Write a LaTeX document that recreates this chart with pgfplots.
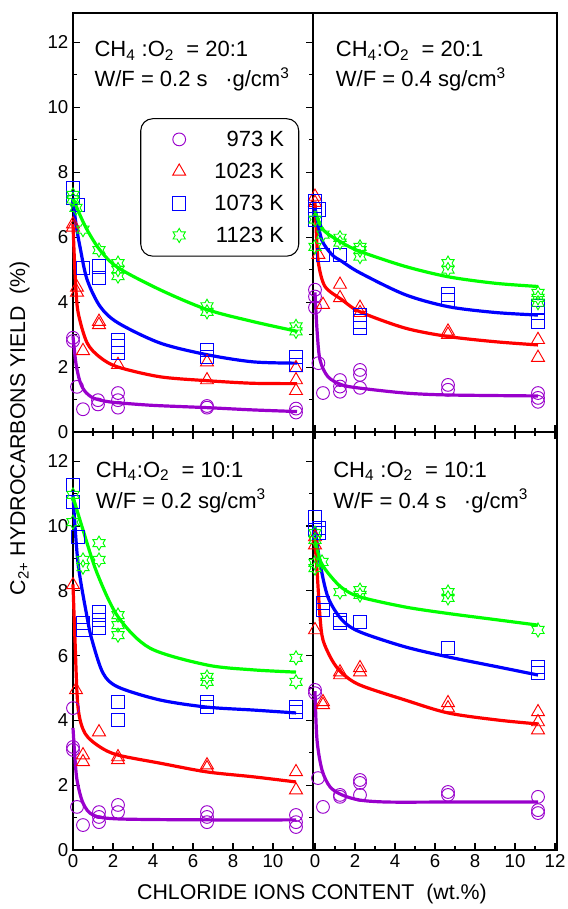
\documentclass[border=0pt]{standalone}
\usepackage{fontspec}
\setmainfont{Liberation Sans}
\usepackage{pgfplots}
\pgfplotsset{compat=1.18}
\usetikzlibrary{plotmarks}

% six-pointed star outline
\pgfdeclareplotmark{hexstar}{%
  \pgfpathmoveto{\pgfpointpolar{90}{\pgfplotmarksize}}%
  \pgfpathlineto{\pgfpointpolar{120}{0.577\pgfplotmarksize}}%
  \pgfpathlineto{\pgfpointpolar{150}{\pgfplotmarksize}}%
  \pgfpathlineto{\pgfpointpolar{180}{0.577\pgfplotmarksize}}%
  \pgfpathlineto{\pgfpointpolar{210}{\pgfplotmarksize}}%
  \pgfpathlineto{\pgfpointpolar{240}{0.577\pgfplotmarksize}}%
  \pgfpathlineto{\pgfpointpolar{270}{\pgfplotmarksize}}%
  \pgfpathlineto{\pgfpointpolar{300}{0.577\pgfplotmarksize}}%
  \pgfpathlineto{\pgfpointpolar{330}{\pgfplotmarksize}}%
  \pgfpathlineto{\pgfpointpolar{0}{0.577\pgfplotmarksize}}%
  \pgfpathlineto{\pgfpointpolar{30}{\pgfplotmarksize}}%
  \pgfpathlineto{\pgfpointpolar{60}{0.577\pgfplotmarksize}}%
  \pgfpathclose
  \pgfusepathqstroke
}

\definecolor{cviolet}{RGB}{153,0,204}
\definecolor{cred}{RGB}{255,0,0}
\definecolor{cblue}{RGB}{0,0,255}
\definecolor{cgreen}{RGB}{0,255,0}

\tikzset{note/.style={anchor=base west, inner sep=0pt, font=\fontsize{16.5}{16.5}\selectfont}}

\pgfplotsset{
  panel/.style={
    scale only axis, height=314.25pt, ymin=0, ymax=12.9, clip=false,
    tick align=inside, axis line style={line width=1.1pt},
    major tick length=5pt, minor tick length=3pt,
    every tick/.style={black, line width=0.8pt},
    minor x tick num=1, minor y tick num=1,
    xtick={0,2,...,12}, ytick={0,2,...,12},
    ticklabel style={font=\fontsize{14}{14}\selectfont},
    /pgf/number format/assume math mode=true,
  },
  nolabels/.style={xticklabels={{},{},{},{},{},{},{}}},
  mk/.style={only marks, mark options={line width=0.7pt},
    legend image code/.code={\path (0pt,0pt) (43.5pt,0pt); \draw[only marks] plot coordinates {(19.5pt,0pt)};}},
  p973/.style={mk, mark=o, mark size=4.8pt, color=cviolet},
  p1023/.style={mk, mark=triangle, mark size=5.6pt, color=cred},
  p1073/.style={mk, mark=square, mark size=5pt, color=cblue},
  p1123/.style={mk, mark=hexstar, mark size=5.3pt, color=cgreen},
  fit/.style={smooth, no marks, line width=2.4pt, forget plot},
}

\begin{document}
\begin{tikzpicture}

% ---------- top left: CH4:O2 = 20:1, W/F = 0.2
\begin{axis}[panel, nolabels, name=tl, at={(0,0)}, anchor=north west, width=180pt,
  xmin=0, xmax=12, xtick pos=left,
  ytick pos=both, yticklabel pos=left,
  legend style={at={(0.28,0.749)}, anchor=north west, draw=black, line width=0.8pt,
    rounded corners=9pt, font=\fontsize{16.5}{16.5}\selectfont,
    row sep=7pt, inner xsep=9pt, inner ysep=7pt},
  legend cell align=right,
  legend image post style={sharp corners, line width=0.7pt}]
\addplot[p973] coordinates {(0,2.9)(0,2.8)(0.2,1.39)(0.5,0.7)(1.25,0.98)(1.25,0.85)(2.25,1.2)(2.25,0.98)(2.25,0.75)(6.7,0.8)(6.7,0.75)(11.15,0.72)(11.15,0.6)};
\addplot[p1023] coordinates {(0,6.4)(0,6.3)(0.2,4.45)(0.2,4.3)(0.5,2.5)(1.3,3.4)(1.3,3.3)(2.25,2.07)(6.7,2.15)(6.7,1.6)(11.15,1.97)(11.15,1.6)(11.15,1.27)};
\addplot[p1073] coordinates {(0,7.5)(0,7.2)(0.25,7.0)(0.5,5.05)(1.3,5.1)(1.3,4.75)(2.25,2.84)(2.25,2.63)(2.25,2.44)(6.7,2.53)(6.7,2.32)(11.15,2.3)(11.15,2.07)};
\addplot[p1123] coordinates {(0,7.3)(0,7.16)(0.15,6.9)(0.5,6.23)(1.3,5.6)(2.25,5.2)(2.25,5.0)(2.25,4.8)(6.7,3.87)(6.7,3.7)(11.15,3.25)(11.15,3.1)};
\legend{973 K, 1023 K, 1073 K, 1123 K}
\addplot[fit, cviolet] coordinates {(0,2.95)(0.15,2.1)(0.35,1.55)(0.6,1.25)(1,1.05)(1.6,0.95)(2.25,0.9)(4,0.82)(6.7,0.75)(9,0.68)(11.2,0.63)};
\addplot[fit, cred] coordinates {(0,6.4)(0.05,5.6)(0.12,4.7)(0.25,3.7)(0.7,2.75)(1.35,2.3)(2.25,2.0)(4.35,1.7)(6.7,1.58)(9,1.5)(11.2,1.49)};
\addplot[fit, cblue] coordinates {(0,7.16)(0.15,6.4)(0.35,5.7)(0.7,4.7)(1.35,3.87)(2.25,3.36)(4.35,2.74)(6.7,2.38)(9,2.16)(11.2,2.12)};
\addplot[fit, cgreen] coordinates {(0,7.2)(0.3,6.75)(0.7,6.23)(1.35,5.6)(2.25,5.06)(4.35,4.38)(6.7,3.77)(9,3.4)(11.2,3.1)};
\node[note, xshift=16pt, yshift=-33pt] at (rel axis cs:0,1) {CH\textsubscript{4} :O\textsubscript{2}\ \ = 20:1};
\node[note, xshift=16pt, yshift=-55.5pt] at (rel axis cs:0,1) {W/F = 0.2 s\hspace{0.8em}·g/cm\textsuperscript{3}};
\end{axis}

% ---------- top right: CH4:O2 = 20:1, W/F = 0.4
\begin{axis}[panel, nolabels, name=tr, at={(tl.north east)}, anchor=north west, width=183pt,
  xmin=-0.1, xmax=12.1, xtick pos=left, ytick=\empty]
\addplot[p973] coordinates {(0,4.38)(0,4.17)(0,3.83)(0.17,2.12)(0.4,1.2)(1.25,1.6)(1.25,1.4)(1.25,1.24)(2.25,1.91)(2.25,1.76)(2.25,1.36)(6.65,1.45)(6.65,1.3)(11.15,1.2)(11.15,1.05)(11.15,0.93)};
\addplot[p1023] coordinates {(0,7.25)(0,7.06)(0.17,5.46)(0.4,3.92)(1.25,4.54)(1.25,4.13)(2.25,3.83)(2.25,3.67)(6.65,3.1)(6.65,3.0)(11.15,2.84)(11.15,2.29)};
\addplot[p1073] coordinates {(0,7.1)(0,6.85)(0,6.54)(0.2,6.85)(0.4,5.46)(1.25,5.46)(2.25,3.6)(2.25,3.4)(2.25,3.2)(6.65,4.23)(6.65,4.07)(11.15,3.86)(11.15,3.67)(11.15,3.4)};
\addplot[p1123] coordinates {(0,6.54)(0,5.7)(0.4,6.08)(1.25,5.98)(1.25,5.83)(2.25,5.7)(2.25,5.6)(2.25,5.4)(6.65,5.2)(6.65,5.0)(11.15,4.28)(11.15,4.13)(11.15,3.98)};
\addplot[fit, cviolet] coordinates {(0,4.3)(0.1,3.15)(0.25,2.22)(0.65,1.7)(1.35,1.45)(2.25,1.35)(4.5,1.2)(6.65,1.14)(11.15,1.11)};
\addplot[fit, cred] coordinates {(0,7.1)(0.07,6.1)(0.17,5.2)(0.5,4.48)(1.35,4.07)(2.25,3.7)(4.5,3.2)(6.65,2.94)(9,2.78)(11.15,2.68)};
\addplot[fit, cblue] coordinates {(0,6.9)(0.33,5.93)(0.85,5.46)(1.35,5.25)(2.25,4.9)(4.5,4.23)(6.65,3.86)(9,3.68)(11.15,3.6)};
\addplot[fit, cgreen] coordinates {(0,6.8)(0.4,6.23)(1.35,5.83)(2.25,5.56)(4.5,5.1)(6.65,4.78)(9,4.58)(11.15,4.48)};
\node[note, xshift=17pt, yshift=-33pt] at (rel axis cs:0,1) {CH\textsubscript{4}:O\textsubscript{2}\ \ = 20:1};
\node[note, xshift=17pt, yshift=-55.5pt] at (rel axis cs:0,1) {W/F = 0.4 sg/cm\textsuperscript{3}};
\end{axis}

% ---------- bottom left: CH4:O2 = 10:1, W/F = 0.2
\begin{axis}[panel, name=bl, at={(tl.south west)}, anchor=north west, width=180pt, height=313.5pt,
  xmin=0, xmax=12, xtick pos=both, xticklabel pos=left,
  xticklabels={0,2,4,6,8,10,{}},
  ytick pos=both, yticklabel pos=left]
\addplot[p973] coordinates {(0,4.38)(0,3.18)(0,3.09)(0.2,1.33)(0.5,0.77)(1.3,1.17)(1.3,1.02)(1.3,0.86)(2.25,1.39)(2.25,1.17)(6.7,1.17)(6.7,1.02)(6.7,0.86)(11.15,1.08)(11.15,0.86)(11.15,0.71)};
\addplot[p1023] coordinates {(0,8.18)(0.15,4.94)(0.5,2.93)(0.5,2.72)(1.3,3.64)(2.25,2.87)(2.25,2.78)(6.7,2.62)(6.7,2.53)(11.15,2.41)(11.15,1.85)};
\addplot[p1073] coordinates {(0,11.27)(0,10.74)(0.25,9.66)(0.5,7.0)(0.5,6.8)(1.3,7.35)(1.3,7.1)(1.3,6.85)(2.25,4.57)(2.25,4.01)(6.7,4.57)(6.7,4.41)(11.15,4.41)(11.15,4.26)};
\addplot[p1123] coordinates {(0,10.96)(0,10.12)(0.5,8.95)(0.5,8.73)(1.3,9.47)(1.3,8.95)(2.25,7.25)(2.25,6.94)(2.25,6.63)(6.7,5.34)(6.7,5.19)(11.15,5.93)(11.15,5.19)};
\addplot[fit, cviolet] coordinates {(0,3.77)(0.08,3.0)(0.2,2.16)(0.5,1.45)(1.0,1.08)(2.25,0.96)(6.7,0.93)(11.15,0.93)};
\addplot[fit, cred] coordinates {(0,8.2)(0.1,6.48)(0.25,4.41)(0.6,3.6)(1.35,3.18)(2.25,2.93)(4.35,2.68)(6.7,2.41)(9,2.26)(11.15,2.1)};
\addplot[fit, cblue] coordinates {(0,10.96)(0.25,8.86)(0.7,7.2)(0.95,6.48)(1.5,5.46)(2.25,5.03)(4.35,4.63)(6.7,4.41)(9,4.32)(11.15,4.23)};
\addplot[fit, cgreen] coordinates {(0,10.9)(0.5,9.88)(1.2,8.55)(2.25,7.2)(3.85,6.23)(6.7,5.71)(9,5.56)(11.15,5.49)};
\node[note, xshift=17pt, yshift=-34pt] at (rel axis cs:0,1) {CH\textsubscript{4}:O\textsubscript{2}\ \ = 10:1};
\node[note, xshift=17pt, yshift=-57pt] at (rel axis cs:0,1) {W/F = 0.2 sg/cm\textsuperscript{3}};
\end{axis}

% ---------- bottom right: CH4:O2 = 10:1, W/F = 0.4
\begin{axis}[panel, name=br, at={(tr.south west)}, anchor=north west, width=183pt, height=313.5pt,
  xmin=-0.1, xmax=12.1, xtick pos=both, xticklabel pos=left, ytick=\empty]
\addplot[p973] coordinates {(0,4.94)(0,4.84)(0.15,2.22)(0.4,1.33)(1.25,1.7)(1.25,1.64)(2.25,2.16)(2.25,2.07)(2.25,1.7)(6.65,1.79)(6.65,1.7)(11.15,1.64)(11.15,1.23)(11.15,1.14)};
\addplot[p1023] coordinates {(0,9.66)(0,9.41)(0,6.79)(0.4,4.57)(0.4,4.48)(1.25,5.49)(1.25,5.4)(2.25,5.62)(2.25,5.49)(6.65,4.54)(6.65,4.38)(11.15,4.26)(11.15,3.95)(11.15,3.7)};
\addplot[p1073] coordinates {(0,10.28)(0,9.88)(0.2,9.94)(0.2,9.78)(0.4,7.62)(0.4,7.41)(1.25,7.1)(1.25,7.0)(2.25,7.04)(6.65,6.23)(11.15,5.65)(11.15,5.46)};
\addplot[p1123] coordinates {(0,9.78)(0,9.57)(0,8.86)(0,8.7)(0.35,8.89)(1.25,7.96)(2.25,8.02)(2.25,7.87)(6.65,7.96)(6.65,7.78)(11.15,6.79)};
\addplot[fit, cviolet] coordinates {(0,4.9)(0.1,3.4)(0.35,2.47)(0.75,1.95)(1.35,1.7)(2.25,1.54)(3.65,1.48)(6.65,1.48)(11.15,1.48)};
\addplot[fit, cred] coordinates {(0,9.5)(0.1,8.64)(0.25,7.2)(0.4,6.48)(0.85,5.86)(1.35,5.46)(2.25,5.09)(4.5,4.63)(6.65,4.23)(9.15,4.01)(11.15,3.89)};
\addplot[fit, cblue] coordinates {(0,9.97)(0.25,8.86)(0.65,7.8)(1.35,7.1)(2.25,6.73)(4.5,6.27)(6.65,5.96)(9.15,5.65)(11.15,5.4)};
\addplot[fit, cgreen] coordinates {(0,9.6)(0.25,8.95)(0.65,8.55)(1.35,8.09)(2.25,7.81)(4.5,7.5)(6.65,7.3)(9.15,7.1)(11.15,6.94)};
\node[note, xshift=15pt, yshift=-34pt] at (rel axis cs:0,1) {CH\textsubscript{4} :O\textsubscript{2}\ \ = 10:1};
\node[note, xshift=15pt, yshift=-57pt] at (rel axis cs:0,1) {W/F = 0.4 s\hspace{0.8em}·g/cm\textsuperscript{3}};
\end{axis}

% shared axis titles
\node[rotate=90, font=\fontsize{16}{16}\selectfont] at (-40pt,-311.25pt) {C\textsubscript{2+} HYDROCARBONS YIELD\ \ (\%)};
\node[anchor=base, font=\fontsize{16}{16}\selectfont] at (179.25pt,-664.5pt) {CHLORIDE IONS CONTENT\ \ (wt.\%)};

\pgfresetboundingbox
\path[use as bounding box] (-54.75pt,9.75pt) rectangle (370.5pt,-672pt);
\end{tikzpicture}
\end{document}
